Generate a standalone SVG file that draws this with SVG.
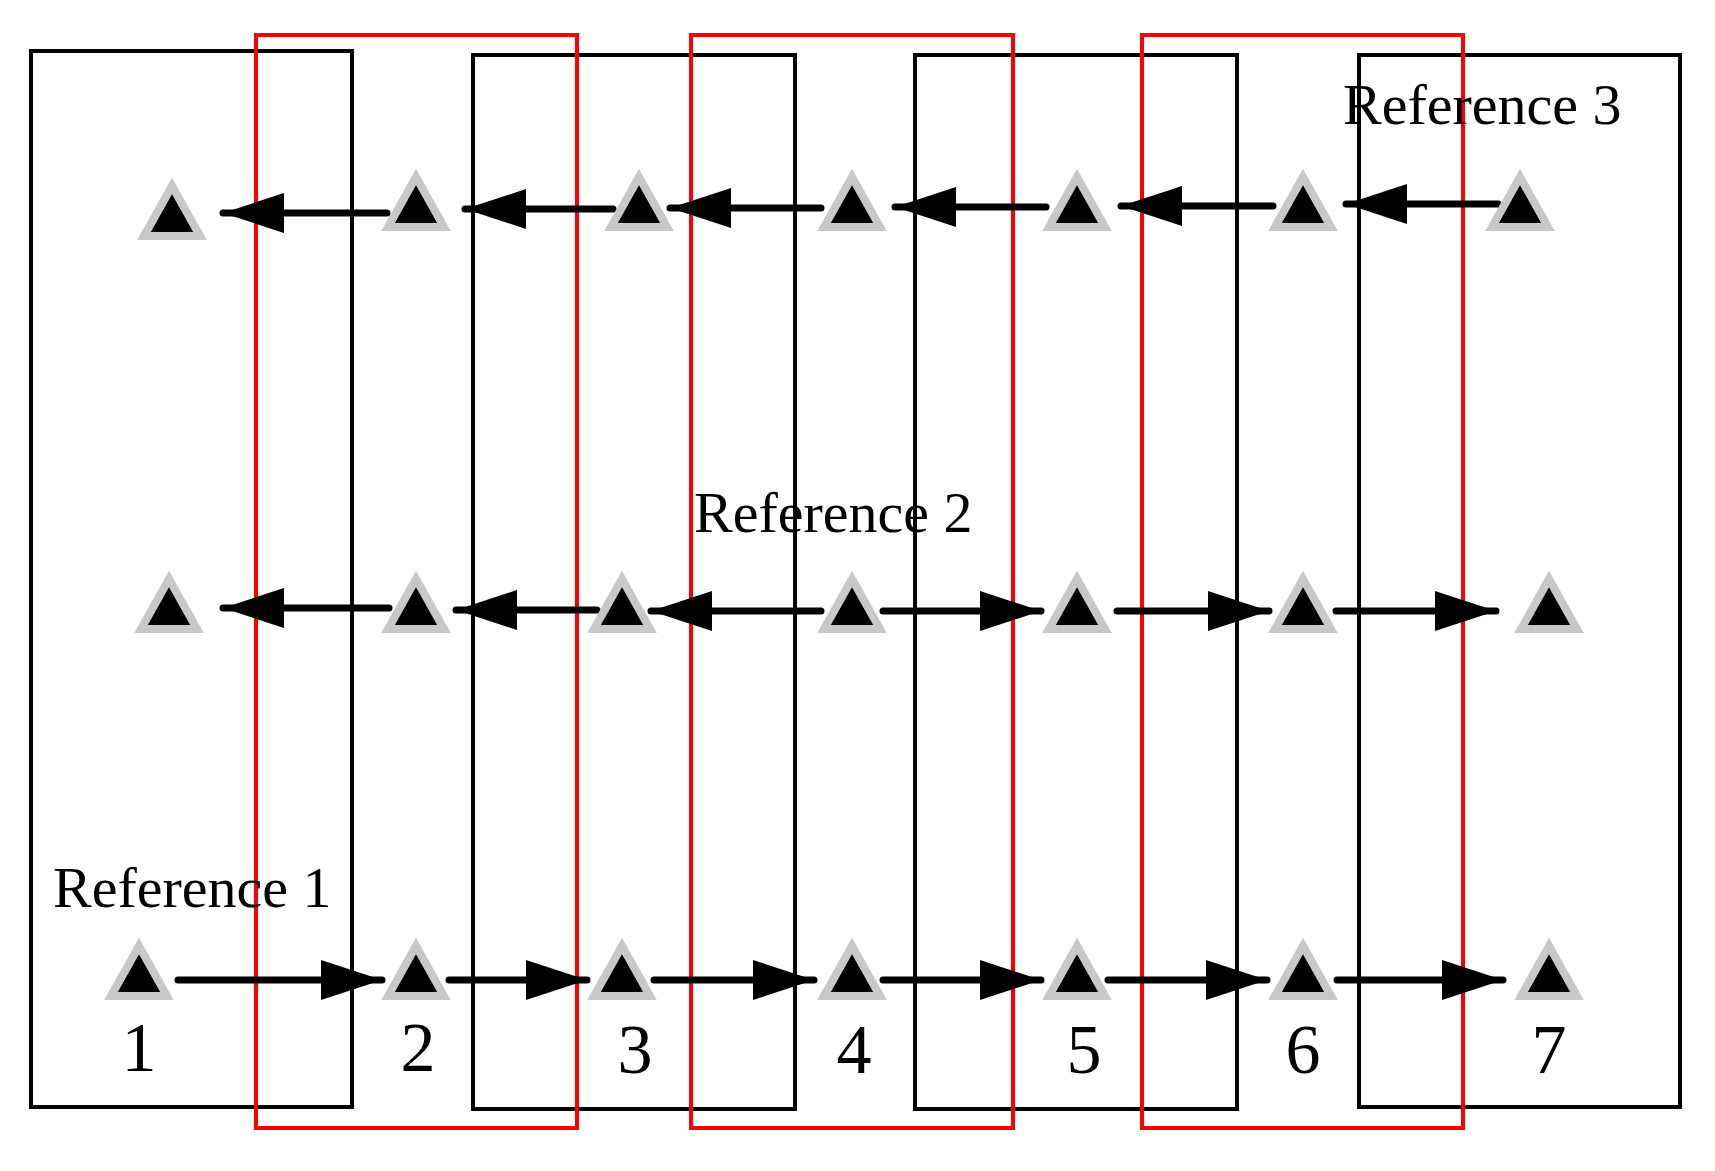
<svg xmlns="http://www.w3.org/2000/svg" width="1715" height="1171" viewBox="0 0 1715 1171">
<style>
.b{fill:none;stroke:#000;stroke-width:4}
.r{fill:none;stroke:#f00;stroke-width:4}
.t{fill:#000;stroke:#c8c8c8;stroke-width:8}
.c{stroke:#000;stroke-width:7;stroke-linecap:round;marker-end:url(#ah)}
text{font-family:"Liberation Serif",serif;fill:#000}
.d{font-size:70px;text-anchor:middle}
.l{font-size:58px}
</style>
<defs>
<marker id="ah" markerUnits="userSpaceOnUse" markerWidth="62" markerHeight="42" refX="61" refY="20" orient="auto"><path d="M0,0 L61,20 L0,40 z" fill="#000"/></marker>
<polygon id="tri" points="0,-54 -28,-4 28,-4"/>
</defs>
<rect width="1715" height="1171" fill="#fff"/>
<g id="groups">
<rect class="b" x="31" y="51" width="321" height="1056"/>
<rect class="b" x="473" y="55" width="322" height="1054"/>
<rect class="b" x="915" y="55" width="322" height="1054"/>
<rect class="b" x="1359" y="55" width="321" height="1052"/>
<rect class="r" x="256" y="35" width="321" height="1093"/>
<rect class="r" x="691" y="35" width="322" height="1093"/>
<rect class="r" x="1142" y="35" width="321" height="1093"/>
</g>
<g id="connectors">
<line class="c" x1="387" y1="213" x2="223" y2="213"/>
<line class="c" x1="613" y1="209" x2="465" y2="209"/>
<line class="c" x1="821" y1="208" x2="670" y2="208"/>
<line class="c" x1="1046" y1="207" x2="895" y2="207"/>
<line class="c" x1="1273" y1="206" x2="1121" y2="206"/>
<line class="c" x1="1498" y1="204" x2="1346" y2="204"/>
<line class="c" x1="389" y1="608" x2="223" y2="608"/>
<line class="c" x1="597" y1="610" x2="456" y2="610"/>
<line class="c" x1="821" y1="611" x2="651" y2="611"/>
<line class="c" x1="883" y1="611" x2="1041" y2="611"/>
<line class="c" x1="1117" y1="611" x2="1269" y2="611"/>
<line class="c" x1="1336" y1="611" x2="1496" y2="611"/>
<line class="c" x1="178" y1="980" x2="382" y2="980"/>
<line class="c" x1="449" y1="980" x2="587" y2="980"/>
<line class="c" x1="654" y1="980" x2="814" y2="980"/>
<line class="c" x1="883" y1="980" x2="1041" y2="980"/>
<line class="c" x1="1108" y1="980" x2="1267" y2="980"/>
<line class="c" x1="1337" y1="980" x2="1503" y2="980"/>
</g>
<g id="row-top">
<use href="#tri" class="t" x="172" y="240"/>
<use href="#tri" class="t" x="416" y="231"/>
<use href="#tri" class="t" x="639" y="231"/>
<use href="#tri" class="t" x="852" y="231"/>
<use href="#tri" class="t" x="1077" y="231"/>
<use href="#tri" class="t" x="1303" y="231"/>
<use href="#tri" class="t" x="1520" y="231"/>
</g>
<g id="row-mid">
<use href="#tri" class="t" x="169" y="633"/>
<use href="#tri" class="t" x="416" y="633"/>
<use href="#tri" class="t" x="622" y="633"/>
<use href="#tri" class="t" x="852" y="633"/>
<use href="#tri" class="t" x="1077" y="633"/>
<use href="#tri" class="t" x="1303" y="633"/>
<use href="#tri" class="t" x="1549" y="633"/>
</g>
<g id="row-bottom">
<use href="#tri" class="t" x="139" y="1000"/>
<use href="#tri" class="t" x="416" y="1000"/>
<use href="#tri" class="t" x="622" y="1000"/>
<use href="#tri" class="t" x="852" y="1000"/>
<use href="#tri" class="t" x="1077" y="1000"/>
<use href="#tri" class="t" x="1303" y="1000"/>
<use href="#tri" class="t" x="1549" y="1000"/>
</g>
<g id="labels">
<text class="d" x="139" y="1071">1</text>
<text class="d" x="418" y="1071">2</text>
<text class="d" x="635" y="1073">3</text>
<text class="d" x="854" y="1073">4</text>
<text class="d" x="1084" y="1073">5</text>
<text class="d" x="1303" y="1073">6</text>
<text class="d" x="1549" y="1073">7</text>
<text class="l" x="53" y="907">Reference 1</text>
<text class="l" x="694" y="532">Reference 2</text>
<text class="l" x="1343" y="124">Reference 3</text>
</g>
</svg>
